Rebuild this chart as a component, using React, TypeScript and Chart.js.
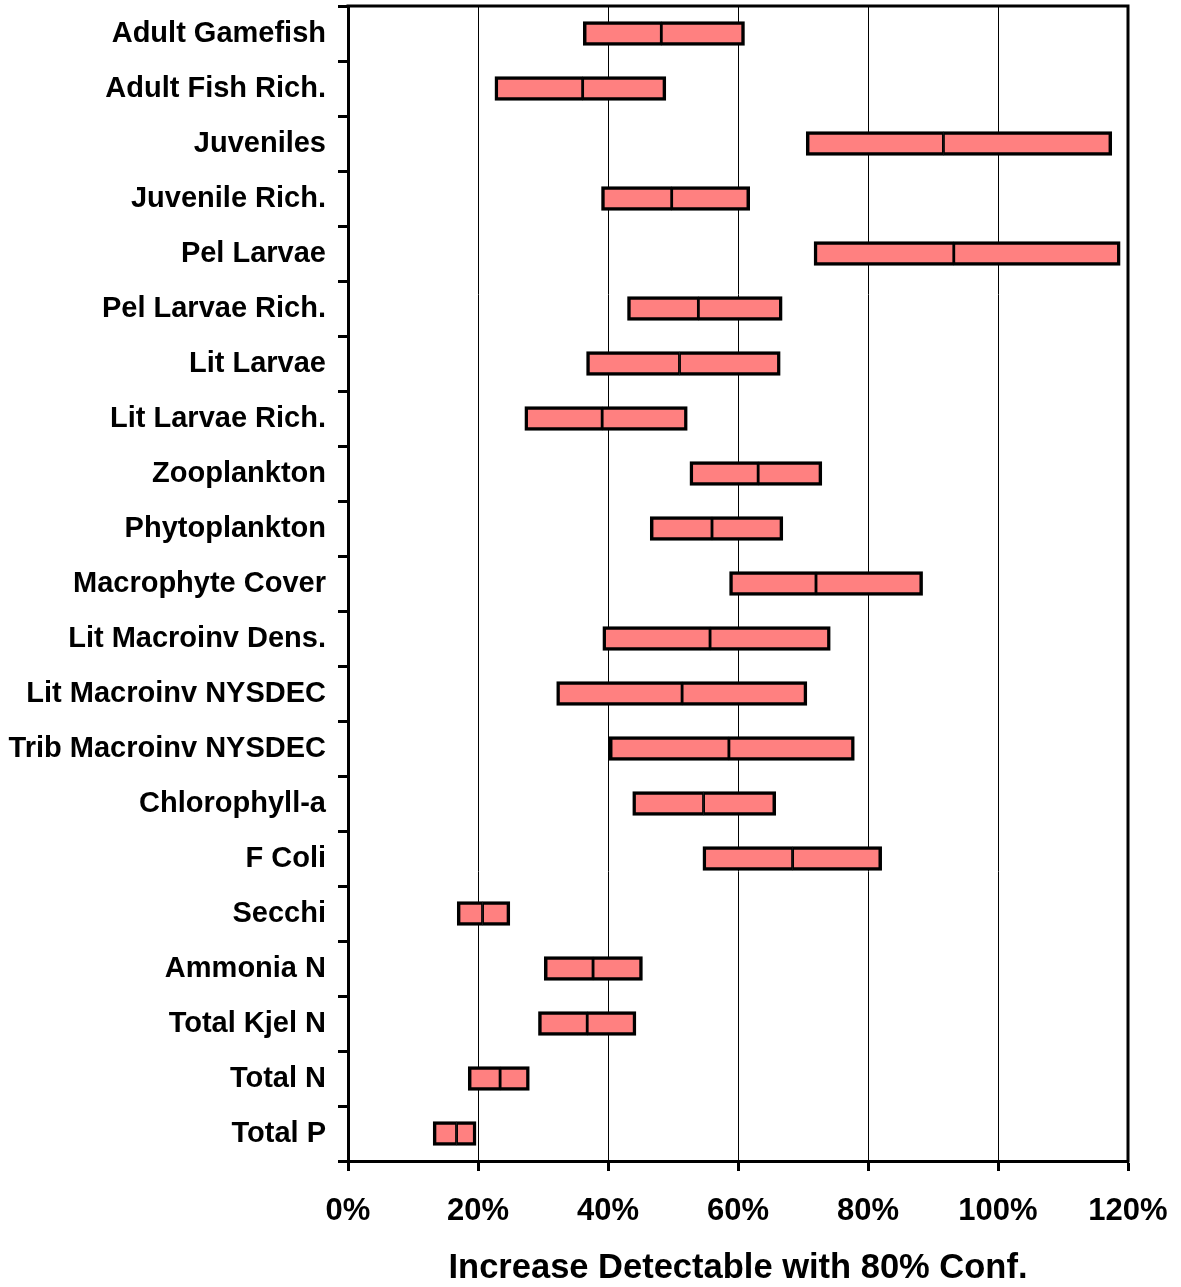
import React, { useEffect, useRef } from "react";
import { Chart, registerables } from "chart.js";

Chart.register(...registerables);

const categories = [
  "Adult Gamefish",
  "Adult Fish Rich.",
  "Juveniles",
  "Juvenile Rich.",
  "Pel Larvae",
  "Pel Larvae Rich.",
  "Lit Larvae",
  "Lit Larvae Rich.",
  "Zooplankton",
  "Phytoplankton",
  "Macrophyte Cover",
  "Lit Macroinv Dens.",
  "Lit Macroinv NYSDEC",
  "Trib Macroinv NYSDEC",
  "Chlorophyll-a",
  "F Coli",
  "Secchi",
  "Ammonia N",
  "Total Kjel N",
  "Total N",
  "Total P",
];

const lowValues = [36.2, 22.6, 70.5, 39.0, 71.7, 43.0, 36.7, 27.2, 52.6, 46.5, 58.7, 39.2, 32.1, 40.2, 43.8, 54.6, 16.8, 30.2, 29.3, 18.5, 13.1];
const medianValues = [48.2, 36.1, 91.6, 49.8, 93.2, 53.9, 51.0, 39.1, 63.1, 56.0, 72.0, 55.7, 51.4, 58.6, 54.7, 68.4, 20.7, 37.7, 36.8, 23.4, 16.7];
const highValues = [61.0, 48.9, 117.5, 61.8, 118.8, 66.8, 66.5, 52.2, 72.9, 66.9, 88.4, 74.2, 70.6, 77.9, 65.8, 82.1, 24.9, 45.3, 44.3, 27.9, 19.7];

const xTicks = [0, 20, 40, 60, 80, 100, 120];

const FONT = "'Liberation Sans', Arial, Helvetica, sans-serif";

const framePlugin = {
  id: "frame",
  afterDraw(chart: any) {
    const { ctx, chartArea } = chart;
    ctx.save();
    ctx.strokeStyle = "#000";
    ctx.lineWidth = 3;
    ctx.beginPath();
    ctx.moveTo(chartArea.left - 1.5, chartArea.top);
    ctx.lineTo(chartArea.right, chartArea.top);
    ctx.lineTo(chartArea.right, chartArea.bottom + 1.5);
    ctx.stroke();
    ctx.restore();
  },
};

export default function App() {
  const ref = useRef<HTMLCanvasElement | null>(null);

  useEffect(() => {
    document.body.style.margin = "0";
    const canvas = ref.current;
    if (!canvas) return;
    const chart = new Chart(canvas, {
      type: "bar",
      data: {
        labels: categories,
        datasets: [
          {
            data: categories.map((_, i) => [lowValues[i], medianValues[i]]) as any,
            backgroundColor: "#FF8080",
            borderColor: "#000",
            borderWidth: { top: 3.5, bottom: 3.5, left: 3.5, right: 1.75 } as any,
            borderSkipped: false,
            barThickness: 24,
            grouped: false,
          } as any,
          {
            data: categories.map((_, i) => [medianValues[i], highValues[i]]) as any,
            backgroundColor: "#FF8080",
            borderColor: "#000",
            borderWidth: { top: 3.5, bottom: 3.5, left: 1.75, right: 3.5 } as any,
            borderSkipped: false,
            barThickness: 24,
            grouped: false,
          } as any,
        ],
      },
      options: {
        indexAxis: "y",
        animation: false,
        responsive: false,
        maintainAspectRatio: false,
        layout: { padding: { top: 6, right: 53, left: 0, bottom: 0 } },
        plugins: {
          legend: { display: false },
          tooltip: { enabled: false },
          title: { display: false },
        },
        scales: {
          x: {
            type: "linear",
            min: 0,
            max: 120,
            afterBuildTicks: (scale: any) => {
              scale.ticks = xTicks.map((v) => ({ value: v }));
            },
            afterFit: (scale: any) => {
              scale.height = 126;
              scale.paddingLeft = 0;
              scale.paddingRight = 0;
            },
            ticks: {
              color: "#000",
              padding: 22,
              font: { family: FONT, size: 31, weight: "bold" },
              callback: (v: any) => v + "%",
              maxRotation: 0,
              autoSkip: false,
            },
            grid: {
              color: (ctx: any) => (ctx.tick && (ctx.tick.value === 0 || ctx.tick.value === 120) ? "rgba(0,0,0,0)" : "#000"),
              lineWidth: 1,
              tickColor: "#000",
              tickWidth: 3,
              tickLength: 10,
              drawOnChartArea: true,
            },
            border: { display: true, color: "#000", width: 3 },
            title: {
              display: true,
              text: "Increase Detectable with 80% Conf.",
              color: "#000",
              font: { family: FONT, size: 34.5, weight: "bold", lineHeight: 1.1 },
              padding: { top: 0, bottom: 0 },
            },
          },
          y: {
            type: "category",
            offset: true,
            afterFit: (scale: any) => {
              scale.width = 348;
              scale.paddingTop = 0;
              scale.paddingBottom = 0;
            },
            ticks: {
              color: "#000",
              padding: 12,
              font: { family: FONT, size: 29, weight: "bold" },
              autoSkip: false,
            },
            grid: {
              offset: true,
              drawOnChartArea: false,
              tickColor: "#000",
              tickWidth: 3,
              tickLength: 10,
            },
            border: { display: true, color: "#000", width: 3 },
          },
        },
      },
      plugins: [framePlugin],
    } as any);
    return () => chart.destroy();
  }, []);

  return (
    <div style={{ width: 1181, height: 1287, background: "#fff" }}>
      <canvas ref={ref} width={1181} height={1287} style={{ display: "block" }} />
    </div>
  );
}
